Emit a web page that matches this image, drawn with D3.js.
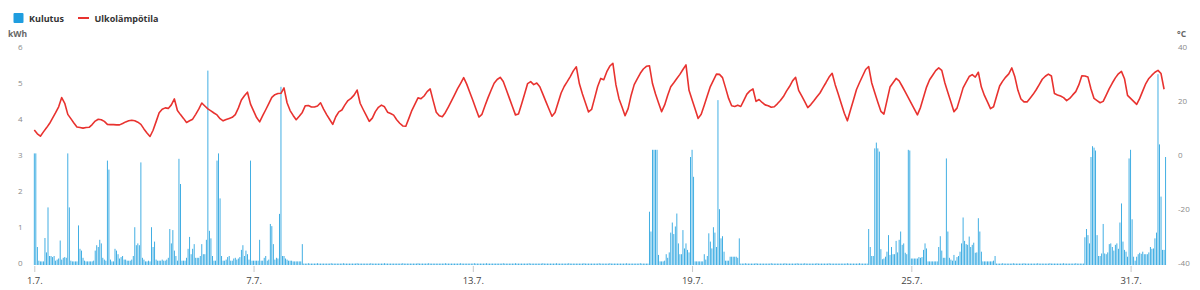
<!DOCTYPE html>
<html>
<head>
<meta charset="utf-8">
<script src="https://cdn.jsdelivr.net/npm/d3@7"></script>
<style>
  body { margin: 0; background: #fff; }
  svg { display: block; font-family: "Open Sans", sans-serif; }
</style>
</head>
<body>
<svg id="chart" width="1200" height="290"></svg>
<script>
// x axis: hour index 0..743 (1.7. 00:00 -> 31.7. 23:00)
const dayLabels = ["1.7.", "7.7.", "13.7.", "19.7.", "25.7.", "31.7."];
const dayTickHours = [0, 144, 288, 432, 576, 720];
const kwhTicks = [0, 1, 2, 3, 4, 5, 6];
const tempTicks = [-40, -20, 0, 20, 40];

// hourly consumption, kWh (one row per day)
const kwh = [
  3.1,3.1,.5,.12,.1,.1,.1,.75,.35,1.6,.25,.25,.22,.25,.12,.15,.18,.68,.15,.2,.22,.2,3.1,1.6,          // 1.7.
  .12,.1,.1,.1,.1,1.1,.45,.4,.2,.12,.1,.1,.1,.1,.1,.12,.4,.55,.5,.7,.6,.2,.15,.12,
  2.9,2.65,.15,.1,.1,.45,.4,.3,.18,.22,.25,.15,.15,.12,.12,.12,.15,.25,1.05,.55,.6,.55,2.85,.2,
  .15,.1,.1,.12,.1,1.05,.5,.65,.15,.12,.12,.12,.15,.12,.12,.15,.2,1,.6,.97,.4,.25,.12,2.95,
  2.25,.12,.12,.12,.2,.45,.78,.3,.45,.58,.2,.2,.2,.25,.58,.3,.3,.7,5.4,.95,.74,.25,.12,.12,           // 5.7.
  2.9,3.1,1.85,.25,.12,.12,.15,.22,.25,.12,.12,.18,.2,.15,.18,.22,.42,.55,.25,.4,.3,.15,2.9,.12,
  .12,.12,.12,.12,.7,.12,.12,.2,.25,.12,.15,1.14,1.08,.58,.15,.2,.18,1.42,4.95,.25,.25,.18,.15,.12,
  .12,.12,.1,.1,.1,.1,.1,.1,.58,.04,.04,.04,.05,.04,.04,.04,.04,.04,.05,.04,.04,.04,.04,.04,
  .04,.04,.04,.05,.04,.04,.04,.04,.04,.04,.04,.05,.04,.04,.04,.04,.04,.04,.04,.04,.05,.04,.04,.04,
  .04,.04,.04,.04,.04,.05,.04,.04,.04,.04,.04,.04,.04,.04,.05,.04,.04,.04,.04,.04,.04,.04,.04,.04,   // 10.7.
  .04,.04,.05,.04,.04,.04,.04,.04,.04,.04,.04,.04,.05,.04,.04,.04,.04,.04,.04,.05,.04,.04,.04,.04,
  .04,.04,.04,.04,.04,.04,.05,.04,.04,.04,.04,.04,.04,.04,.04,.04,.05,.04,.04,.04,.04,.04,.04,.04,
  .04,.05,.04,.04,.04,.04,.04,.04,.04,.05,.04,.04,.04,.04,.04,.04,.04,.04,.04,.04,.05,.04,.04,.04,
  .04,.04,.04,.04,.05,.04,.04,.04,.04,.04,.04,.04,.04,.05,.04,.04,.04,.04,.04,.04,.04,.04,.05,.04,
  .04,.04,.04,.04,.04,.04,.04,.05,.04,.04,.04,.04,.04,.04,.04,.05,.04,.04,.04,.04,.04,.04,.04,.04,   // 15.7.
  .04,.05,.04,.04,.04,.04,.04,.04,.04,.04,.04,.05,.04,.04,.04,.04,.04,.04,.05,.04,.04,.04,.04,.04,
  .04,.04,.04,.04,.04,.05,.04,.04,.04,.04,.04,.04,.04,.04,.05,.04,.04,.04,.04,.04,1.48,.93,3.2,3.2,
  3.2,3.2,.28,.1,.1,.1,.12,.3,.2,.35,.9,1.18,.86,1.07,1.43,.6,.3,.3,.97,.46,.6,.42,.35,3,
  3.2,2.45,.1,.1,.1,.1,.1,.1,.3,.15,.25,.88,.65,.46,1.05,.9,.5,4.58,1.55,.74,.8,.37,.12,.12,
  .12,.23,.23,.23,.23,.23,.2,.74,.04,.04,.04,.05,.04,.04,.04,.04,.04,.04,.05,.04,.04,.04,.04,.04,   // 20.7.
  .04,.04,.04,.04,.05,.04,.04,.04,.04,.04,.04,.04,.04,.05,.04,.04,.04,.04,.04,.04,.04,.05,.04,.04,
  .04,.04,.05,.04,.04,.04,.04,.04,.04,.04,.05,.04,.04,.04,.04,.04,.04,.04,.05,.04,.04,.04,.04,.04,
  .04,.04,.04,.04,.04,.04,.05,.04,.04,.04,.04,.04,.04,.04,.05,.04,.04,.04,.04,.04,1,.5,.25,.25,
  3.24,3.4,3.24,3.15,.44,.16,.18,.23,.37,.83,.28,.5,.3,.3,.67,.35,.7,.93,.56,.6,.34,.3,3.2,3.18,
  .18,.18,.18,.18,.18,.22,.2,.22,.42,.6,.46,.1,.1,.1,.1,.1,.1,.1,.5,.8,.4,.2,.2,2.96,                 // 25.7.
  .93,.2,.15,.12,.28,.12,.22,.25,.37,.6,1.32,.67,.58,.56,.79,.5,.56,.62,.34,.35,1.3,.93,.37,.1,
  .1,.1,.1,.1,.1,.1,.12,.25,.04,.04,.04,.04,.05,.04,.04,.04,.04,.04,.04,.05,.04,.04,.04,.04,
  .04,.04,.05,.04,.04,.04,.04,.04,.04,.04,.04,.05,.04,.04,.04,.04,.04,.04,.04,.05,.04,.04,.04,.04,
  .04,.04,.04,.04,.05,.04,.04,.04,.04,.04,.04,.04,.05,.04,.04,.04,.04,.04,.77,1,.83,.6,3,3.3,
  3.26,3.18,.83,.25,.25,.32,1.14,.32,.3,.35,.58,.6,.5,.4,.56,.6,.45,1.18,1.71,.65,.42,.37,.23,2.96,   // 30.7.
  3.2,1.27,.23,.12,.23,.3,.34,.31,.37,.3,.3,.3,.35,.5,.45,.46,.74,.9,5.3,3.35,1.9,.42,.42,3
];

// outdoor temperature, °C, every 2 hours (one row per day)
const temp = [
  10,8.6,7.7,9.3,10.8,12.4,14.4,16.4,18.6,22,19.9,15.8,                 // 1.7.
  14.2,12.6,11.1,10.9,10.7,10.9,11,12,13.3,14,13.8,13.2,
  12.1,12,12,11.9,11.9,12.4,13,13.4,13.6,13.4,12.9,12.1,
  10.4,8.9,7.6,9.9,13.1,16.4,17.7,18.2,18,19.3,21.5,17.2,
  15.7,14.3,12.8,13.4,14,15.8,17.7,20,18.9,17.8,17.1,16.3,              // 5.7.
  15.6,14.2,13.4,13.9,14.3,14.7,15.7,18.1,21.1,22.7,24,19.6,
  17.1,14.6,13,15.3,17.5,19.8,22.1,23.1,23.5,23.6,25.6,20.1,
  17.2,15.4,13.8,15.1,16.5,19,19.1,18.5,18.5,18.9,20.1,17.7,
  15.7,13.9,12.1,14.9,16.7,17.4,19.3,20.9,21.7,22.9,24.8,19.9,
  17.6,15.4,13.2,14.4,16.8,18.4,19.2,18.6,16.6,16.1,15.5,13.8,          // 10.7.
  12.5,11.5,11.4,14.3,17.3,19.6,21.9,21.6,22.6,24.2,25.2,20.8,
  16.6,15.3,14.9,16.5,18.6,20.8,23,25.3,27.3,29.4,27,24,
  21,17.9,14.8,15.8,19,22,24.7,27.3,28.7,29.5,28,24.9,
  21.8,18.7,15.6,15.9,19.5,23.3,27.2,27.9,26.8,27.4,26,23.3,
  20.5,17.8,15.1,16.5,20.1,23.7,26.1,27.9,29.8,31.9,33.4,27.1,          // 15.7.
  23.3,20,16.7,17.6,21.8,26.1,29.1,28.6,31.6,33.7,34.7,26.7,
  21.6,18.5,15.3,17.9,22.9,26.8,28.9,31,32.6,33.6,33.8,27.2,
  23.3,20,16.8,19.3,22.9,26,27.5,29.1,30.6,32.4,34.1,24.7,
  21.2,17.8,14.3,15.8,19.2,22.7,26.1,28.4,30.7,30.6,29.4,25.6,
  21.7,19,18.7,19.2,18.7,21,23.3,24.5,25.2,20.6,21.3,20.2,              // 20.7.
  19.3,19,18.4,18.6,19.7,20.9,22.4,24.4,26.1,28.2,29.5,24.7,
  22.6,20.5,18.3,19.4,20.8,22.3,23.7,25.7,27.6,29.6,31,26.8,
  23.3,19.7,16.2,13.4,17.3,21.1,25,27.6,30,32.4,33.5,27.4,
  23.8,20.3,16.9,15.9,20.9,25.9,27.5,29.1,28.2,26.2,24.1,22,
  19.9,17.7,15.6,18.3,22.1,25.9,28.6,30.3,32,33,32.1,27.5,              // 25.7.
  23.9,20.4,16.8,18.1,21.8,25.6,27.7,29.8,30.5,29.6,31.4,25.9,
  22.8,20.4,17.9,18.6,22.5,26.3,28.1,29.6,30.8,33,29.7,24.7,
  21.5,20.4,20.4,21.8,23.2,24.9,26.8,28.8,29.9,30.7,30,23.5,
  23,22.6,22,20.9,21.7,23,24.2,26.7,30.1,30,29.6,25.2,
  21.7,20.9,20.1,20.6,22.9,25.3,27.4,29.3,30.8,31.7,29,22.8,            // 30.7.
  21.7,20.6,19.5,21.7,24.5,27.2,29.1,30.3,31.4,32.1,30.9,25.1
];

const barColor = "#2ea6e0";
const lineColor = "#e8322f";

const svg = d3.select("#chart");

const x = d3.scaleLinear().domain([0, 743]).range([34.3, 1165.6]);
const yKwh = d3.scaleLinear().domain([0, 6]).range([265, 49]);
const yTemp = d3.scaleLinear().domain([-40, 40]).range([265, 49]);

// left axis (kWh)
const leftAxis = svg.append("g")
  .attr("transform", "translate(25.5,0)")
  .call(d3.axisLeft(yKwh).tickValues(kwhTicks).tickSize(0).tickPadding(3).tickFormat(d3.format("d")));
leftAxis.select(".domain").remove();
leftAxis.selectAll("text")
  .attr("font-size", 8).attr("fill", "#8a8a8a").attr("font-family", "Open Sans")
  .attr("transform", "translate(0,-2)");

// right axis (°C)
const rightAxis = svg.append("g")
  .attr("transform", "translate(1175,0)")
  .call(d3.axisRight(yTemp).tickValues(tempTicks).tickSize(0).tickPadding(3).tickFormat(d => d));
rightAxis.select(".domain").remove();
rightAxis.selectAll("text")
  .attr("font-size", 8).attr("fill", "#8a8a8a").attr("font-family", "Open Sans")
  .attr("transform", "translate(0,-2)");

// bottom axis, ticks only
const bottomAxis = svg.append("g")
  .attr("transform", "translate(0,266)")
  .call(d3.axisBottom(x).tickValues(dayTickHours).tickSize(6).tickPadding(5)
    .tickFormat((d, i) => dayLabels[i]));
bottomAxis.select(".domain").remove();
bottomAxis.selectAll("line").attr("stroke", "#c8c8c8");
bottomAxis.selectAll("text")
  .attr("font-size", 9.5).attr("fill", "#444").attr("font-family", "Open Sans");

// axis titles
svg.append("text").attr("x", 8).attr("y", 36.5)
  .attr("font-size", 8.5).attr("font-weight", 700).attr("fill", "#666").text("kWh");
svg.append("text").attr("x", 1177).attr("y", 36.5)
  .attr("font-size", 8.5).attr("font-weight", 700).attr("fill", "#666").text("°C");

// consumption bars
svg.append("g").selectAll("rect")
  .data(kwh)
  .join("rect")
  .attr("x", (d, i) => x(i) - 0.45)
  .attr("width", 0.9)
  .attr("y", d => yKwh(d))
  .attr("height", d => yKwh(0) - yKwh(d))
  .attr("fill", barColor);

// temperature line
const line = d3.line()
  .x((d, i) => x(i * 2))
  .y(d => yTemp(d))
  .curve(d3.curveLinear);

svg.append("path")
  .datum(temp)
  .attr("d", line)
  .attr("fill", "none")
  .attr("stroke", lineColor)
  .attr("stroke-width", 1.6)
  .attr("stroke-linejoin", "round");

// legend
const legend = svg.append("g");
legend.append("rect").attr("x", 13.5).attr("y", 13).attr("width", 10).attr("height", 10)
  .attr("rx", 1).attr("fill", "#1f9ddf");
legend.append("text").attr("x", 29).attr("y", 21.5)
  .attr("font-size", 9).attr("font-weight", 700).attr("fill", "#333").text("Kulutus");
legend.append("line").attr("x1", 78).attr("x2", 89).attr("y1", 18).attr("y2", 18)
  .attr("stroke", lineColor).attr("stroke-width", 2);
legend.append("text").attr("x", 94.5).attr("y", 21.5)
  .attr("font-size", 9).attr("font-weight", 700).attr("fill", "#333").text("Ulkolämpötila");
</script>
</body>
</html>
